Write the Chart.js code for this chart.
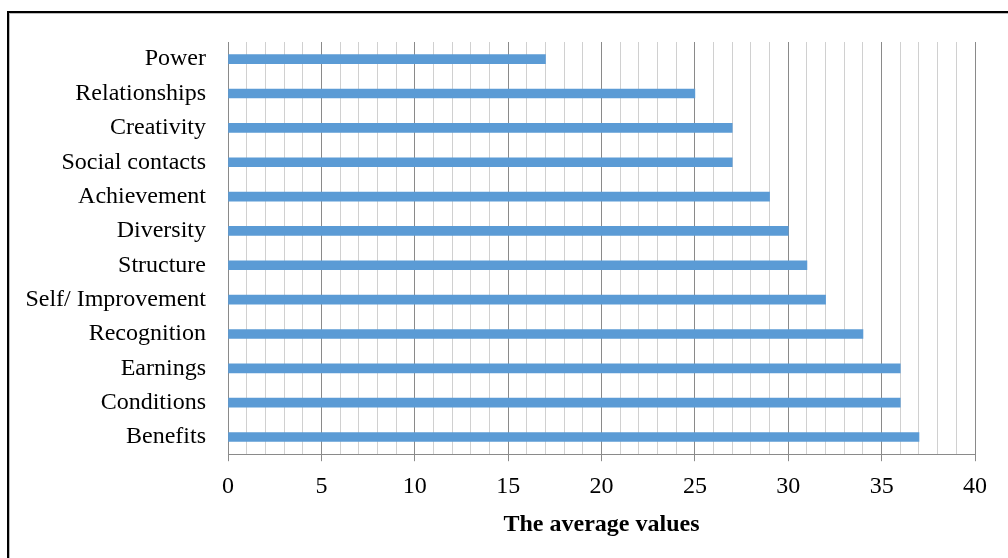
<!DOCTYPE html>
<html>
<head>
<meta charset="utf-8">
<script src="https://cdn.jsdelivr.net/npm/chart.js@4/dist/chart.umd.min.js"></script>
<style>
  html, body { margin: 0; padding: 0; background: #fff; overflow: hidden; }
  #wrap { position: relative; width: 1008px; height: 558px; overflow: hidden; }
  .edge { position: absolute; background: #000; }
  .shade { position: absolute; background: #bbb; }
  canvas { position: absolute; left: 0; top: 0; }
</style>
</head>
<body>
<div id="wrap">
  <div class="edge" style="left:7px; top:11px; width:1001px; height:2px;"></div>
  <div class="edge" style="left:7px; top:11px; width:2px; height:547px;"></div>
  <div class="shade" style="left:9px; top:13px; width:999px; height:1px;"></div>
  <div class="shade" style="left:9px; top:13px; width:1px; height:545px;"></div>
  <canvas id="myChart" width="1008" height="558"></canvas>
</div>
<script>
// values, top to bottom
const categories = ['Power', 'Relationships', 'Creativity', 'Social contacts', 'Achievement',
  'Diversity', 'Structure', 'Self/ Improvement', 'Recognition', 'Earnings', 'Conditions', 'Benefits'];
const averageValues = [17, 25, 27, 27, 29, 30, 31, 32, 34, 36, 36, 37];
const axisMin = 0;
const axisMax = 40;

const serif = 'Liberation Serif, Times New Roman, serif';

const chartConfig = {
  type: 'bar',
  data: {
    labels: categories,
    datasets: [{
      label: 'The average values',
      data: averageValues,
      backgroundColor: '#5B9BD5',
      barThickness: 9
    }]
  },
  options: {
    indexAxis: 'y',
    responsive: false,
    animation: false,
    layout: { padding: { top: 42, right: 33, bottom: 21, left: 0 } },
    plugins: {
      legend: { display: false },
      tooltip: { enabled: false }
    },
    scales: {
      x: {
        min: axisMin,
        max: axisMax,
        ticks: {
          stepSize: 1,
          color: '#000',
          font: { family: serif, size: 24 },
          padding: 11,
          maxRotation: 0,
          autoSkip: false,
          callback: (v) => (v % 5 === 0 ? v : '')
        },
        grid: {
          color: (c) => (c.tick && c.tick.value % 5 === 0 ? '#8a8a8a' : '#d0d0d0'),
          tickColor: (c) => (c.tick && c.tick.value % 5 === 0 ? '#8a8a8a' : 'rgba(0,0,0,0)'),
          tickLength: 7
        },
        border: { color: '#8a8a8a' },
        title: {
          display: true,
          text: 'The average values',
          color: '#000',
          font: { family: serif, size: 24, weight: 'bold', lineHeight: 1.0 },
          padding: { top: 1, bottom: 0 }
        }
      },
      y: {
        ticks: {
          color: '#000',
          font: { family: serif, size: 24 },
          padding: 22
        },
        grid: { display: false, drawTicks: false },
        border: { color: '#8a8a8a' },
        afterFit: (scale) => { scale.width = 228; }
      }
    }
  }
};

const ctx = document.getElementById('myChart').getContext('2d');
const myChart = new Chart(ctx, chartConfig);
</script>
</body>
</html>
